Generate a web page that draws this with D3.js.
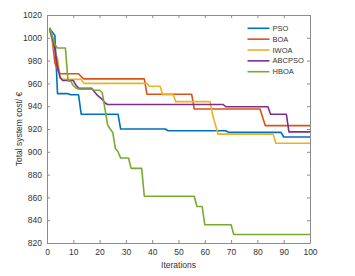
<!DOCTYPE html>
<html><head><meta charset="utf-8">
<script src="https://cdn.jsdelivr.net/npm/d3@7"></script>
<style>body{margin:0;background:#fff}svg{display:block;font-family:"Liberation Sans",Arial,sans-serif}</style>
</head><body><svg id="c" width="355" height="276"></svg>
<script>
const seriesNames = ["PSO","BOA","IWOA","ABCPSO","HBOA"];
const colors = ["#0072BD","#D95319","#EDB120","#7E2F8E","#77AC30"];
const xTicks = [0,10,20,30,40,50,60,70,80,90,100];
const yTicks = [820,840,860,880,900,920,940,960,980,1000,1020];

const PSO = [
1008,1005,1002,951,951,951,951,951,950,950,
950,950,933,933,933,933,933,933,933,933,
933,933,933,933,933,933,933,920,920,920,
920,920,920,920,920,920,920,920,920,920,
920,920,920,920,920,918.5,918.5,918.5,918.5,918.5,
918.5,918.5,918.5,918.5,918.5,918.5,918.5,918.5,918.5,918.5,
918.5,918.5,918.5,918.5,918.5,918.5,918.5,918.5,917,917,
917,917,917,917,917,917,917,917,917,917,
917,917,917,917,917,917,917,917,917,913,
913,913,913,913,913,913,913,913,913,913];
const BOA = [
1008,998,978,972,968.5,968.5,968.5,968.5,968.5,968.5,
968.5,968.5,966,964,964,964,964,964,964,964,
964,964,964,964,964,964,964,964,964,964,
964,964,964,964,964,964,964,950.5,950.5,950.5,
950.5,950.5,950.5,950.5,950.5,950.5,950.5,950.5,950.5,950.5,
950.5,950.5,950.5,950.5,950.5,937.5,937.5,937.5,937.5,937.5,
937.5,937.5,937.5,937.5,937.5,937.5,937.5,937.5,937.5,937.5,
937.5,937.5,937.5,937.5,937.5,937.5,937.5,937.5,937.5,937.5,
937.5,930,923,923,923,923,923,923,923,923,
923,923,923,923,923,923,923,923,923,923];
const IWOA = [
1008,998,988,982,965,963.5,963.5,963.5,963.5,963.5,
963.5,963.5,963.5,960,960,960,960,960,960,960,
960,960,960,960,960,960,960,960,960,960,
960,960,960,960,960,960,960,960,957.5,957.5,
957.5,957.5,957.5,950,950,950,950,950,944,944,
944,944,944,944,944,944,944,944,944,944,
944,944,932,924,915.5,915.5,915.5,915.5,915.5,915.5,
915.5,915.5,915.5,915.5,915.5,915.5,915.5,915.5,915.5,915.5,
915.5,915.5,915.5,915.5,915.5,915.5,907.5,907.5,907.5,907.5,
907.5,907.5,907.5,907.5,907.5,907.5,907.5,907.5,907.5,907.5];
const ABCPSO = [
1008,1000,990,975,965,962.5,962.5,962.5,962.5,962.5,
958.5,955.7,955.7,955.7,955.7,955.7,955.7,952.7,950,948,
946,943,941.5,941.5,941.5,941.5,941.5,941.5,941.5,941.5,
941.5,941.5,941.5,941.5,941.5,941.5,941.5,941.5,941.5,941.5,
941.5,941.5,941.5,941.5,941.5,941.5,941.5,941.5,941.5,941.5,
941.5,941.5,941.5,941.5,941.5,941.5,941.5,941.5,941.5,941.5,
941.5,941.5,941.5,941.5,941.5,941.5,941.5,939.5,939.5,939.5,
939.5,939.5,939.5,939.5,939.5,939.5,939.5,939.5,939.5,939.5,
939.5,939.5,939.5,939.5,933,933,933,933,933,933,
933,917.5,917.5,917.5,917.5,917.5,917.5,917.5,917.5,917.5];
const HBOA = [
1009,1002,994,991,991,991,991,962,962,958,
956,955,955,955,955,955,955,954,954,954,
952,938,924,920,917,903,900,894.5,894.5,894.5,
894.5,885.5,885.5,885.5,885.5,885.5,861,861,861,861,
861,861,861,861,861,861,861,861,861,861,
861,861,861,861,861,861,852,852,852,836,
836,836,836,836,836,836,836,836,836,836,
827.5,827.5,827.5,827.5,827.5,827.5,827.5,827.5,827.5,827.5,
827.5,827.5,827.5,827.5,827.5,827.5,827.5,827.5,827.5,827.5,
827.5,827.5,827.5,827.5,827.5,827.5,827.5,827.5,827.5,827.5];
const seriesData = [PSO,BOA,IWOA,ABCPSO,HBOA];

const W=355,H=276,m={l:47,r:45,t:15,b:33};
const svg=d3.select("#c");
const x=d3.scaleLinear().domain([0,100]).range([m.l,W-m.r]);
const y=d3.scaleLinear().domain([820,1020]).range([H-m.b,m.t]);
const axisColor="#8c8c8c", textColor="#333";
const tl=3;
const fmt=d3.format("d");

function style(g){
  g.select(".domain").attr("stroke",axisColor);
  g.selectAll(".tick line").attr("stroke",axisColor);
  g.selectAll(".tick text").attr("fill",textColor).attr("font-size","8.5px");
}
svg.append("g").attr("transform",`translate(0,${H-m.b})`)
  .call(d3.axisBottom(x).tickValues(xTicks).tickFormat(fmt).tickSizeInner(-tl).tickSizeOuter(0).tickPadding(6))
  .call(style);
svg.append("g").attr("transform",`translate(0,${m.t})`)
  .call(d3.axisTop(x).tickValues(xTicks).tickSizeInner(-tl).tickSizeOuter(0).tickFormat(""))
  .call(style);
svg.append("g").attr("transform",`translate(${m.l},0)`)
  .call(d3.axisLeft(y).tickValues(yTicks).tickFormat(fmt).tickSizeInner(-tl).tickSizeOuter(0).tickPadding(5))
  .call(style);
svg.append("g").attr("transform",`translate(${W-m.r},0)`)
  .call(d3.axisRight(y).tickValues(yTicks).tickSizeInner(-tl).tickSizeOuter(0).tickFormat(""))
  .call(style);

const line=d3.line().x((d,i)=>x(i+1)).y(d=>y(d));
seriesData.forEach((s,k)=>{
  svg.append("path").datum(s).attr("d",line).attr("fill","none")
    .attr("stroke",colors[k]).attr("stroke-width",1.6).attr("stroke-linejoin","round");
});

// legend
const lg=svg.append("g");
seriesNames.forEach((n,k)=>{
  const yy=28.3+k*10.85;
  lg.append("line").attr("x1",247.5).attr("x2",269.5).attr("y1",yy).attr("y2",yy)
    .attr("stroke",colors[k]).attr("stroke-width",1.6);
  lg.append("text").attr("x",272.5).attr("y",yy).attr("dy","0.35em")
    .attr("font-size","7.5px").attr("fill",textColor).text(n);
});

svg.append("text").attr("x",(m.l+W-m.r)/2).attr("y",268).attr("text-anchor","middle")
  .attr("font-size","8.5px").attr("fill",textColor).text("Iterations");
svg.append("text").attr("transform",`translate(22,${(m.t+H-m.b)/2}) rotate(-90)`)
  .attr("text-anchor","middle").attr("font-size","8.5px").attr("fill",textColor)
  .text("Total system cost/ €");
</script></body></html>
